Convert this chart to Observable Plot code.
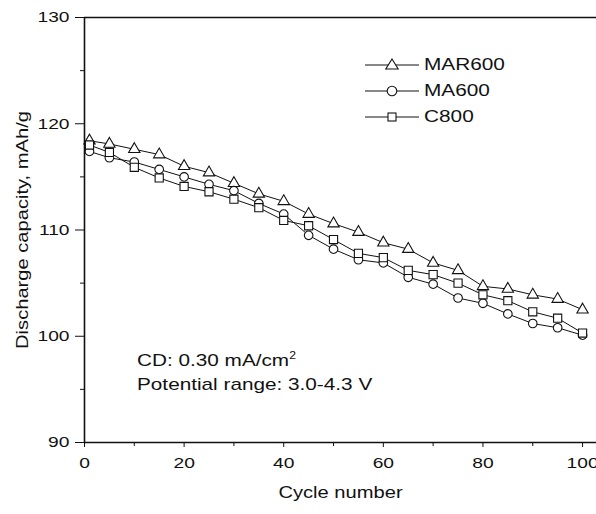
<!DOCTYPE html>
<html>
<head>
<meta charset="utf-8">
<script src="https://cdn.jsdelivr.net/npm/d3@7"></script>
<script src="https://cdn.jsdelivr.net/npm/@observablehq/plot@0.6"></script>
<style>
  html, body { margin: 0; padding: 0; background: #fff; }
  #wrap { position: relative; width: 596px; height: 514px; font-family: "Liberation Sans", Arial, sans-serif; }
  #legend { position: absolute; left: 365px; top: 52px; font-size: 16px; color: #111; }
  #legend .row { display: flex; align-items: center; height: 26px; white-space: nowrap; }
  #legend svg { display: block; margin-right: 5px; }
  #legend span { display: inline-block; transform: scaleX(1.3); transform-origin: left center; }
  #note { position: absolute; left: 137px; top: 349px; font-size: 17px; color: #111; line-height: 24px; white-space: nowrap; }
  #note div { transform: scaleX(1.22); transform-origin: left center; }
  #note sup { font-size: 10px; vertical-align: 7px; line-height: 0; }
</style>
</head>
<body>
<div id="wrap"></div>
<script>
const cycles = [1, 5, 10, 15, 20, 25, 30, 35, 40, 45, 50, 55, 60, 65, 70, 75, 80, 85, 90, 95, 100];
const mar600 = [118.4, 118.1, 117.6, 117.1, 116.0, 115.4, 114.4, 113.4, 112.7, 111.5, 110.6, 109.8, 108.8, 108.2, 106.9, 106.2, 104.7, 104.45, 103.9, 103.5, 102.5];
const ma600  = [117.4, 116.8, 116.4, 115.7, 115.0, 114.3, 113.7, 112.5, 111.5, 109.5, 108.2, 107.2, 106.9, 105.55, 104.9, 103.6, 103.1, 102.1, 101.2, 100.8, 100.1];
const c800   = [118.0, 117.3, 115.9, 114.9, 114.1, 113.6, 112.9, 112.1, 110.9, 110.4, 109.1, 107.8, 107.4, 106.2, 105.8, 105.0, 103.9, 103.35, 102.3, 101.7, 100.3];
const seriesNames = ["MAR600", "MA600", "C800"];
const seriesSymbols = ["triangle", "circle", "square"];
const xMajorTicks = [0, 20, 40, 60, 80, 100];
const xMinorTicks = [10, 30, 50, 70, 90];
const yMajorTicks = [90, 100, 110, 120, 130];
const yMinorTicks = [95, 105, 115, 125];
const xTitle = "Cycle number";
const yTitle = "Discharge capacity, mAh/g";
const noteLine1 = ["CD: 0.30 mA/cm", "2"];
const noteLine2 = "Potential range: 3.0-4.3 V";

const seriesValues = [mar600, ma600, c800];
const rows = seriesNames.map((name, i) => cycles.map((c, j) => ({series: name, cycle: c, cap: seriesValues[i][j]})));
const symbolR = {triangle: 4.2, circle: 4.3, square: 4.6};

const marks = [];
rows.forEach((data) => {
  marks.push(Plot.line(data, {x: "cycle", y: "cap", stroke: "#111", strokeWidth: 1}));
});
rows.forEach((data, i) => {
  const sym = seriesSymbols[i];
  marks.push(Plot.dot(data, {x: "cycle", y: "cap", symbol: () => sym, r: symbolR[sym], stroke: "#111", fill: "white", strokeWidth: 1.1}));
});

const chart = Plot.plot({
  width: 596,
  height: 514,
  marginLeft: 84,
  marginRight: 0,
  marginTop: 17,
  marginBottom: 72,
  style: {fontFamily: "Liberation Sans, Arial, sans-serif", fontSize: "15px", color: "#111", background: "white"},
  x: {domain: [0, 102.8], axis: null},
  y: {domain: [90, 130], axis: null},
  symbol: {type: "identity"},
  marks: [
    ...marks,
    Plot.axisX({ticks: xMajorTicks, tickSize: 5, tickPadding: 10, label: null, fontSize: 15}),
    Plot.axisX({ticks: xMinorTicks, tickSize: 4, tickFormat: () => "", label: null}),
    Plot.axisY({ticks: yMajorTicks, tickSize: 9, tickPadding: 6, label: null, fontSize: 15}),
    Plot.axisY({ticks: yMinorTicks, tickSize: 4, tickFormat: () => "", label: null}),
    Plot.ruleX([0], {stroke: "#111", strokeWidth: 1.6}),
    Plot.ruleY([90], {stroke: "#111", strokeWidth: 1.6}),
    Plot.ruleY([130], {stroke: "#111", strokeWidth: 1.6}),
    Plot.text([xTitle], {frameAnchor: "bottom", dy: 55, fontSize: 16.5, fill: "#111"}),
    Plot.text([yTitle], {frameAnchor: "left", dx: -62, rotate: -90, textAnchor: "middle", fontSize: 16.5, fill: "#111"})
  ]
});
const wrap = document.getElementById("wrap");
wrap.appendChild(chart);

// widen the glyphs like the reference's broad sans-serif lettering
chart.querySelectorAll("text").forEach(t => {
  const txt = t.textContent;
  if (!txt) return;
  const len = t.getComputedTextLength();
  if (len > 0) {
    const k = txt.length > 5 ? 1.22 : 1.28;
    t.setAttribute("textLength", (len * k).toFixed(1));
    t.setAttribute("lengthAdjust", "spacingAndGlyphs");
  }
});

// legend
const legend = document.createElement("div");
legend.id = "legend";
const symPaths = {
  triangle: '<path d="M27,2 L33.2,12 L20.8,12 Z" fill="white" stroke="#111" stroke-width="1.1"/>',
  circle: '<circle cx="27" cy="8" r="4.8" fill="white" stroke="#111" stroke-width="1.1"/>',
  square: '<rect x="23" y="4" width="8" height="8" fill="white" stroke="#111" stroke-width="1.1"/>'
};
seriesNames.forEach((name, i) => {
  const row = document.createElement("div");
  row.className = "row";
  row.innerHTML = '<svg width="54" height="16"><line x1="0" x2="54" y1="8" y2="8" stroke="#111" stroke-width="1"/>' + symPaths[seriesSymbols[i]] + '</svg><span>' + name + '</span>';
  legend.appendChild(row);
});
wrap.appendChild(legend);

const note = document.createElement("div");
note.id = "note";
note.innerHTML = "<div>" + noteLine1[0] + "<sup>" + noteLine1[1] + "</sup></div><div>" + noteLine2 + "</div>";
wrap.appendChild(note);
</script>
</body>
</html>
